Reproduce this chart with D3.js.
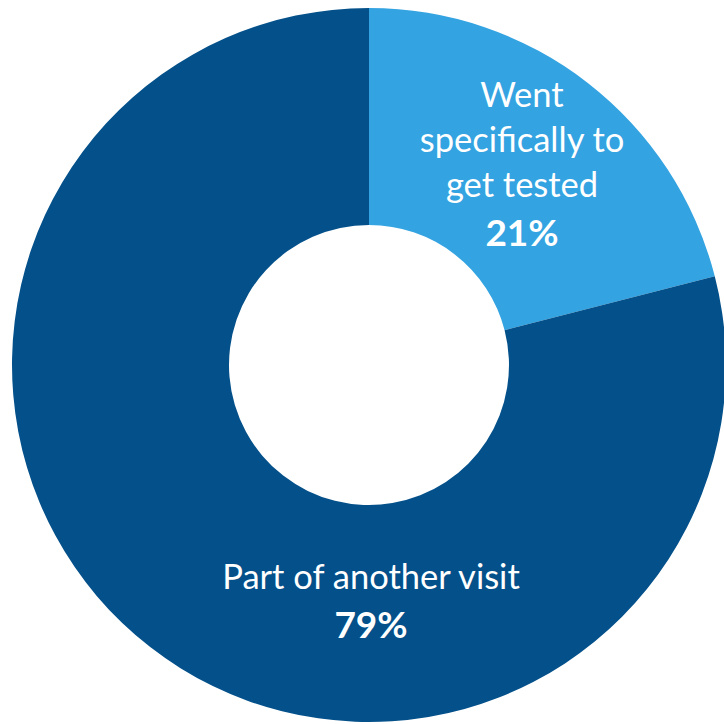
<!DOCTYPE html>
<html><head><meta charset="utf-8">
<script src="https://cdn.jsdelivr.net/npm/d3@7"></script>
<style>html,body{margin:0;padding:0;background:#fff;}svg{display:block;}</style>
</head><body>
<svg id="chart" width="724" height="724"></svg>
<script>
const categories = ["Went specifically to get tested", "Part of another visit"];
const values = [21, 79];
const labelLines = [["Went", "specifically to", "get tested"], ["Part of another visit"]];
const pctLabels = ["21%", "79%"];
const colors = ["#33A3E1", "#03508A"];

const svg = d3.select("#chart");
const cx = 369, cy = 365, outerR = 357, innerR = 140;
const g = svg.append("g").attr("transform", `translate(${cx},${cy})`);
const pie = d3.pie().sort(null).value(d => d)(values);
const arc = d3.arc().innerRadius(innerR).outerRadius(outerR);
g.selectAll("path").data(pie).join("path")
  .attr("d", arc).attr("fill", (d, i) => colors[i]);

const labelPos = [[153, -258], [2, 224]];
const lh = 45;
pie.forEach((d, i) => {
  const t = g.append("text").attr("text-anchor", "middle")
    .attr("font-family", "Lato, 'Open Sans', sans-serif").attr("fill", "#fff")
    .attr("font-size", 34.5);
  labelLines[i].forEach((ln, j) => {
    t.append("tspan").attr("x", labelPos[i][0]).attr("y", labelPos[i][1] + j * lh).text(ln);
  });
  t.append("tspan").attr("x", labelPos[i][0]).attr("y", labelPos[i][1] + labelLines[i].length * lh + 4)
    .attr("font-weight", "bold").attr("font-size", 37).text(pctLabels[i]);
});
</script>
</body></html>
